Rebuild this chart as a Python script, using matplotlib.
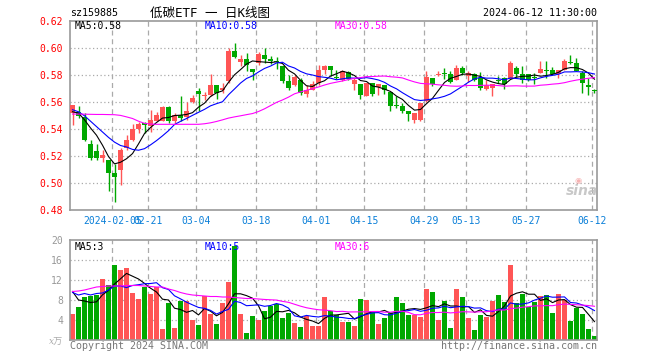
import numpy as np
import matplotlib
matplotlib.use("Agg")
import matplotlib.pyplot as plt

# ---------------- data ----------------
opens = [0.552, 0.553, 0.549, 0.529, 0.524, 0.519, 0.517, 0.508, 0.510, 0.5265,
         0.532, 0.540, 0.545, 0.5425, 0.5465, 0.5465, 0.5565, 0.5463, 0.5508, 0.5488,
         0.560, 0.5686, 0.5644, 0.5656, 0.573, 0.5688, 0.5755, 0.5977, 0.590, 0.5923,
         0.5845, 0.589, 0.595, 0.5923, 0.5908, 0.5866, 0.576, 0.573, 0.5767, 0.566,
         0.5693, 0.5743, 0.5841, 0.5866, 0.579, 0.5767, 0.5821, 0.5735, 0.5735, 0.565,
         0.5743, 0.5711, 0.573, 0.568, 0.5577, 0.557, 0.5538, 0.5471, 0.5471, 0.5607,
         0.578, 0.5799, 0.5817, 0.581, 0.5767, 0.5854, 0.5792, 0.581, 0.578, 0.570,
         0.5705, 0.5767, 0.578, 0.5775, 0.5854, 0.581, 0.581, 0.578, 0.5817, 0.5842,
         0.5842, 0.581, 0.5842, 0.5898, 0.589, 0.5817, 0.573, 0.5686]
highs = [0.558, 0.557, 0.552, 0.532, 0.529, 0.525, 0.517, 0.514, 0.526, 0.536,
         0.544, 0.5456, 0.5455, 0.5545, 0.553, 0.557, 0.557, 0.552, 0.5644, 0.560,
         0.5656, 0.5706, 0.568, 0.581, 0.573, 0.5743, 0.600, 0.604, 0.595, 0.5965,
         0.5845, 0.597, 0.600, 0.5946, 0.5933, 0.5866, 0.580, 0.5805, 0.578, 0.573,
         0.576, 0.5873, 0.5878, 0.5866, 0.5836, 0.5836, 0.5829, 0.578, 0.5735, 0.5743,
         0.5743, 0.5735, 0.573, 0.568, 0.5644, 0.5594, 0.5538, 0.552, 0.5594, 0.5829,
         0.578, 0.5834, 0.5854, 0.5829, 0.5878, 0.5866, 0.5829, 0.5817, 0.5824, 0.5767,
         0.5735, 0.5792, 0.5785, 0.5903, 0.5866, 0.5866, 0.581, 0.5817, 0.5903, 0.5908,
         0.5859, 0.5842, 0.5923, 0.5952, 0.5928, 0.5829, 0.5779, 0.5701]
lows = [0.543, 0.548, 0.531, 0.517, 0.517, 0.516, 0.494, 0.486, 0.499, 0.525,
        0.531, 0.5375, 0.537, 0.538, 0.546, 0.546, 0.5446, 0.5446, 0.546, 0.547,
        0.5594, 0.5538, 0.562, 0.5644, 0.5624, 0.5668, 0.5743, 0.5928, 0.5866, 0.5829,
        0.5767, 0.588, 0.5889, 0.5885, 0.5849, 0.5743, 0.5693, 0.5718, 0.5656, 0.5636,
        0.5693, 0.573, 0.581, 0.5792, 0.5775, 0.576, 0.5767, 0.5693, 0.5626, 0.565,
        0.565, 0.5656, 0.566, 0.5538, 0.5557, 0.552, 0.5463, 0.5446, 0.5459, 0.5602,
        0.5718, 0.5792, 0.5775, 0.5743, 0.5767, 0.5804, 0.575, 0.576, 0.5693, 0.5693,
        0.565, 0.574, 0.570, 0.5775, 0.5785, 0.5743, 0.576, 0.5735, 0.5817, 0.578,
        0.580, 0.578, 0.5842, 0.5883, 0.5829, 0.5668, 0.5656, 0.5668]
closes = [0.558, 0.550, 0.532, 0.519, 0.519, 0.521, 0.508, 0.505, 0.525, 0.532,
          0.540, 0.544, 0.5435, 0.547, 0.5507, 0.5565, 0.546, 0.5508, 0.5483, 0.5533,
          0.5632, 0.5664, 0.5656, 0.573, 0.5668, 0.5706, 0.598, 0.5935, 0.5921, 0.5873,
          0.5822, 0.5955, 0.5918, 0.5905, 0.5898, 0.576, 0.5705, 0.5785, 0.5668, 0.5693,
          0.5735, 0.5836, 0.5866, 0.5841, 0.5779, 0.5829, 0.5775, 0.5767, 0.5656, 0.5743,
          0.5661, 0.5735, 0.5693, 0.557, 0.557, 0.5537, 0.5513, 0.552, 0.5594, 0.5785,
          0.5735, 0.5809, 0.5812, 0.5748, 0.5854, 0.5817, 0.5817, 0.5767, 0.5705, 0.5725,
          0.5735, 0.576, 0.5735, 0.589, 0.581, 0.5767, 0.5767, 0.5777, 0.5846, 0.5834,
          0.581, 0.5842, 0.5908, 0.5891, 0.5829, 0.5743, 0.5711, 0.5681]
volumes = [5.2, 6.6, 8.6, 8.8, 9.0, 12.2, 11.0, 15.0, 14.0, 14.4,
           9.4, 8.2, 10.6, 9.2, 10.6, 2.2, 7.4, 2.4, 7.9, 7.8,
           4.0, 3.0, 8.8, 5.2, 3.2, 7.4, 11.6, 18.8, 5.2, 1.4,
           4.8, 4.0, 5.8, 6.8, 7.2, 4.4, 5.4, 3.4, 2.6, 4.8,
           2.8, 2.8, 8.6, 5.8, 5.1, 3.6, 3.6, 2.8, 8.2, 8.0,
           5.8, 3.2, 4.4, 5.4, 8.6, 7.4, 5.0, 5.0, 4.6, 10.2,
           9.6, 4.0, 7.8, 2.4, 10.2, 8.6, 4.4, 2.0, 5.0, 4.6,
           7.8, 9.0, 7.6, 15.0, 7.4, 9.2, 6.6, 7.6, 8.8, 9.0,
           5.4, 9.2, 8.0, 3.8, 6.4, 5.2, 2.2, 0.8]

ma5_head = [0.553, 0.552, 0.547, 0.541]
ma10_head = [0.5545, 0.553, 0.550, 0.546, 0.542, 0.538, 0.534, 0.5305, 0.528]
ma30_head = [0.5513, 0.5513, 0.5512, 0.5511, 0.551, 0.551, 0.5509, 0.5508, 0.5503, 0.5492,
             0.548, 0.546, 0.5444, 0.5439, 0.5437, 0.5437, 0.5437, 0.5437, 0.5437, 0.5437,
             0.5437, 0.5437, 0.5441, 0.5448, 0.5458, 0.547, 0.5483, 0.5492, 0.550]
vma5_head = [9.7, 8.0, 7.8, 7.5]
vma10_head = [9.5, 9.0, 9.3, 9.0, 9.3, 9.4, 10.0, 10.8, 10.8]
vma30_head = [9.7, 9.8, 10.0, 10.3, 10.6, 10.7, 10.8, 10.8, 10.8, 10.9,
              10.9, 10.9, 10.8, 10.7, 10.6, 10.6, 10.2, 9.9, 9.5, 9.2,
              9.0, 8.9, 8.8, 8.7, 8.7, 8.6, 8.6, 8.5, 8.4]

date_idx = [7, 13, 21, 31, 41, 49, 59, 66, 76, 87]
date_labels = ["2024-02-05", "02-21", "03-04", "03-18", "04-01", "04-15",
               "04-29", "05-13", "05-27", "06-12"]
price_ticks = [0.62, 0.60, 0.58, 0.56, 0.54, 0.52, 0.50, 0.48]
vol_ticks = [20, 16, 12, 8, 4]

# ---------------- helpers ----------------
def moving_avg(vals, n, head):
    vals = np.asarray(vals, float)
    out = np.empty(len(vals))
    for i in range(len(vals)):
        if i < n - 1:
            out[i] = head[i]
        else:
            out[i] = vals[i - n + 1:i + 1].mean()
    return out

RED = "#ff5555"
GREEN = "#00a800"
GRID = "#aaaaaa"
SPINE = "#999999"
MONO = ["DejaVu Sans Mono", "Noto Sans CJK SC"]

n = len(closes)
x = np.arange(n)
o = np.array(opens); c = np.array(closes); h = np.array(highs); l = np.array(lows)
up = c >= o
colors = [RED if u else GREEN for u in up]

W, H = 660, 360
fig = plt.figure(figsize=(6.6, 3.6), dpi=100)
fig.patch.set_facecolor("white")

def px_axes(left, top, right, bottom):
    return fig.add_axes([left / W, 1 - bottom / H, (right - left) / W, (bottom - top) / H])

ax = px_axes(70, 21.3, 597, 210.3)
axv = px_axes(70, 240, 597, 340)

xlim = (-0.42, n - 1 + 0.42)

for a in (ax, axv):
    a.set_xlim(*xlim)
    for s in a.spines.values():
        s.set_color(SPINE)
        s.set_linewidth(1.2)
    a.tick_params(axis="both", length=0)
    for d in date_idx:
        a.axvline(d - 0.35, color=GRID, lw=0.9, ls=(0, (4, 3)), zorder=0)

# ---- price panel ----
ax.set_ylim(0.48, 0.62)
for p in price_ticks[1:-1]:
    ax.axhline(p, color=GRID, lw=0.9, ls=(0, (1, 2)), zorder=0)

bw = 0.78
ax.vlines(x, l, h, colors=colors, lw=1.0, zorder=2)
body_bottom = np.minimum(o, c)
body_h = np.maximum(np.abs(c - o), 0.0007)
ax.bar(x, body_h, bottom=body_bottom, width=bw, color=colors, lw=0, zorder=3)

ma5 = moving_avg(closes, 5, ma5_head)
ma10 = moving_avg(closes, 10, ma10_head)
ma30 = moving_avg(closes, 30, ma30_head)
ax.plot(x, ma5, color="black", lw=0.8, zorder=4)
ax.plot(x, ma10, color="#0000ff", lw=0.8, zorder=4)
ax.plot(x, ma30, color="#ff00ff", lw=0.8, zorder=4)

ax.set_yticks(price_ticks)
ax.set_yticklabels([f"{p:.2f}" for p in price_ticks], color="#ff0000",
                   fontsize=7, family=MONO)
ax.tick_params(axis="y", pad=5)
ax.set_xticks([d - 0.35 for d in date_idx])
ax.set_xticklabels(date_labels, color="#0a7fd8", fontsize=7, family=MONO)
ax.tick_params(axis="x", pad=4)

# ---- volume panel ----
axv.set_ylim(0, 20)
for v in vol_ticks[1:]:
    axv.axhline(v, color=GRID, lw=0.9, ls=(0, (1, 2)), zorder=0)
axv.bar(x, volumes, width=bw, color=colors, lw=0, zorder=2)
vma5 = moving_avg(volumes, 5, vma5_head)
vma10 = moving_avg(volumes, 10, vma10_head)
vma30 = moving_avg(volumes, 30, vma30_head)
axv.plot(x, vma5, color="black", lw=0.8, zorder=4)
axv.plot(x, vma10, color="#0000ff", lw=0.8, zorder=4)
axv.plot(x, vma30, color="#ff00ff", lw=0.8, zorder=4)
axv.set_yticks(vol_ticks)
axv.set_yticklabels([str(v) for v in vol_ticks], color="#999999", fontsize=7, family=MONO)
axv.tick_params(axis="y", pad=5)
axv.set_xticks([])

# ---- texts ----
def ftext(px, py, s, **kw):
    fig.text(px / W, 1 - py / H, s, **kw)

ftext(70, 13, "sz159885", ha="left", va="center", fontsize=7.2, family=MONO, color="black")
ftext(150, 13, "低碳ETF 一 日K线图", ha="left", va="center", fontsize=9,
      family=MONO, color="black")
ftext(597, 13, "2024-06-12 11:30:00", ha="right", va="center", fontsize=7.2,
      family=MONO, color="black")

ftext(75, 26, "MA5:0.58", ha="left", va="center", fontsize=7, family=MONO, color="black")
ftext(205, 26, "MA10:0.58", ha="left", va="center", fontsize=7, family=MONO, color="#0000ff")
ftext(335, 26, "MA30:0.58", ha="left", va="center", fontsize=7, family=MONO, color="#ff00ff")

ftext(75, 247, "MA5:3", ha="left", va="center", fontsize=7, family=MONO, color="black")
ftext(205, 247, "MA10:5", ha="left", va="center", fontsize=7, family=MONO, color="#0000ff")
ftext(335, 247, "MA30:6", ha="left", va="center", fontsize=7, family=MONO, color="#ff00ff")

ftext(63, 342, "x万", ha="right", va="center", fontsize=6.5,
      family=["DejaVu Serif", "Noto Sans CJK SC"], color="#aaaaaa", style="italic")
ftext(70, 346, "Copyright 2024 SINA.COM", ha="left", va="center", fontsize=7.2,
      family=MONO, color="#777777")
ftext(597, 346, "http://finance.sina.com.cn", ha="right", va="center", fontsize=7.2,
      family=MONO, color="#777777")

# sina watermark
ftext(582, 191, "sina", ha="center", va="center", fontsize=10, style="italic",
      weight="bold", color="#bbbbbb", family="DejaVu Sans", alpha=0.8)
ftext(578, 181, "◉", ha="center", va="center", fontsize=6, color="#f4a0a0",
      family="DejaVu Sans", alpha=0.8)

fig.savefig("out.png", dpi=100, facecolor="white")
